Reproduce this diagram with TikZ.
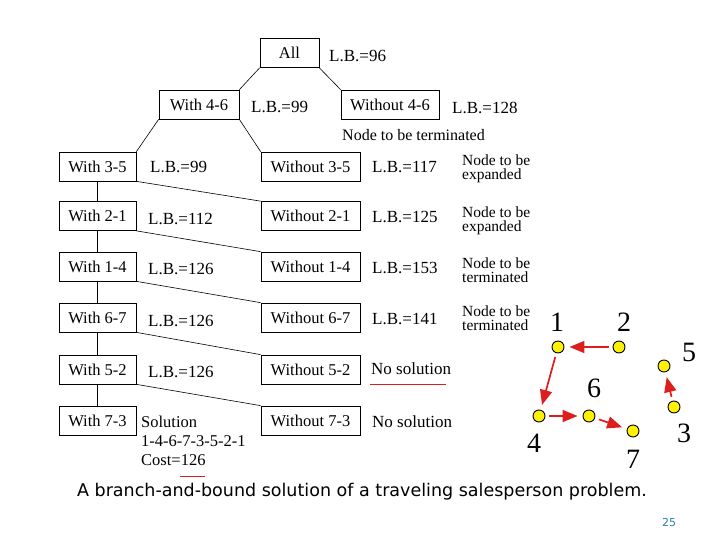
\documentclass[tikz,border=0pt]{standalone}
\usepackage{fontspec}
\setmainfont{Liberation Serif}
\newfontfamily\capfont{DejaVu Sans}
\usetikzlibrary{arrows.meta}
\definecolor{ered}{RGB}{220,30,30}
\definecolor{pgnum}{RGB}{40,130,170}
\begin{document}
\begin{tikzpicture}[x=1pt,y=-1pt,
  bx/.style={draw,line width=0.7pt,minimum height=29pt,inner sep=0pt,font=\fontsize{16.5}{16.5}\selectfont},
  lb/.style={anchor=west,inner sep=0pt,font=\fontsize{17}{17}\selectfont},
  nt/.style={anchor=west,inner sep=0pt,align=left,font=\fontsize{15.5}{13.5}\selectfont},
  ln/.style={line width=0.6pt},
  vx/.style={circle,draw,fill=yellow,minimum size=12pt,inner sep=0pt,line width=0.9pt},
  vl/.style={font=\fontsize{28}{28}\selectfont,inner sep=0pt},
  ea/.style={draw=ered,line width=1.7pt,-{Triangle[length=15pt,width=12pt]},shorten >=5pt,shorten <=4pt}]
\useasboundingbox (0,0) rectangle (720,540);
\node[bx,minimum width=59pt] (all) at (289.5,53) {All};
\node[bx,minimum width=80pt] (w46) at (199,104.5) {With 4-6};
\node[bx,minimum width=98pt] (wo46) at (390,104.5) {Without 4-6};
\foreach \n/\y/\a in {35/166.5/3-5,21/216/2-1,14/266.5/1-4,67/317.5/6-7,52/369.5/5-2,73/420.5/7-3}{
  \node[bx,minimum width=77pt] (l\n) at (97.5,\y) {With \a};
  \node[bx,minimum width=99pt] (r\n) at (310.5,\y) {Without \a};
}
\draw[ln] (all.south west) -- (w46.north east);
\draw[ln] (all.south east) -- (wo46.north west);
\draw[ln] (w46.south west) -- (l35.north east);
\draw[ln] (w46.south east) -- (r35.north west);
\foreach \a/\b in {35/21,21/14,14/67,67/52,52/73}{
  \draw[ln] (l\a.south) -- (l\b.north);
  \draw[ln] (l\a.south east) -- (r\b.north west);
}
\node[lb] (t1) at (329,56) {L.B.=96};
\node[lb] (t2) at (251,107) {L.B.=99};
\node[lb] (t3) at (452,108) {L.B.=128};
\node[lb,font=\fontsize{16}{16}\selectfont] (t4) at (342,135) {Node to be terminated};
\node[lb] (t5) at (150,167) {L.B.=99};
\node[lb] (t6) at (372,167) {L.B.=117};
\node[lb] (t7) at (148,219) {L.B.=112};
\node[lb] (t8) at (372,217) {L.B.=125};
\node[lb] (t9) at (148,269) {L.B.=126};
\node[lb] (t10) at (372,268) {L.B.=153};
\node[lb] (t11) at (148,321) {L.B.=126};
\node[lb] (t12) at (372,319) {L.B.=141};
\node[lb] (t13) at (148,372) {L.B.=126};
\node[lb] (ns1) at (371,369) {No solution};
\node[lb] (ns2) at (372,422) {No solution};
\node[nt] (e1) at (462,169) {Node to be\\[1pt]expanded};
\node[nt] (e2) at (462,221) {Node to be\\[1pt]expanded};
\node[nt] (e3) at (462,270) {Node to be\\[1pt]terminated};
\node[nt] (e4) at (462,318) {Node to be\\[1pt]terminated};
\node[nt,font=\fontsize{16.5}{16}\selectfont,anchor=north west] (sol) at (141,416) {Solution\\[3pt]1-4-6-7-3-5-2-1\\[3pt]Cost=126};
\coordinate (u1) at (370,384); \coordinate (u2) at (446,384);
\draw[ered,line width=0.8pt] (u1) -- (u2);
\coordinate (u3) at (180,476); \coordinate (u4) at (205,476);
\draw[ered,line width=0.8pt] (u3) -- (u4);
% graph
\node[vx] (v1) at (558,347) {};
\node[vx] (v2) at (619,347) {};
\node[vx] (v5) at (664,366) {};
\node[vx] (v3) at (674,407) {};
\node[vx] (v4) at (539,416) {};
\node[vx] (v6) at (589,416) {};
\node[vx] (v7) at (633,431) {};
\draw[ea] (v2) -- (v1);
\draw[ea] (v1) -- (v4);
\draw[ea] (v4) -- (v6);
\draw[ea] (v6) -- (v7);
\draw[ea] (v3) -- (v5);
\node[vl] (n1) at (557,322) {1};
\node[vl] (n2) at (624,322) {2};
\node[vl] (n5) at (689,352) {5};
\node[vl] (n3) at (684,433) {3};
\node[vl] (n4) at (534,443) {4};
\node[vl] (n6) at (594,388) {6};
\node[vl] (n7) at (633,459) {7};
\node[font=\capfont\fontsize{17.5}{18}\selectfont,inner sep=0pt] (cap) at (362,492) {A branch-and-bound solution of a traveling salesperson problem.};
\node[font=\capfont\fontsize{11}{11}\selectfont,text=pgnum,inner sep=0pt] (pg) at (669,522) {25};
\end{tikzpicture}
\end{document}
